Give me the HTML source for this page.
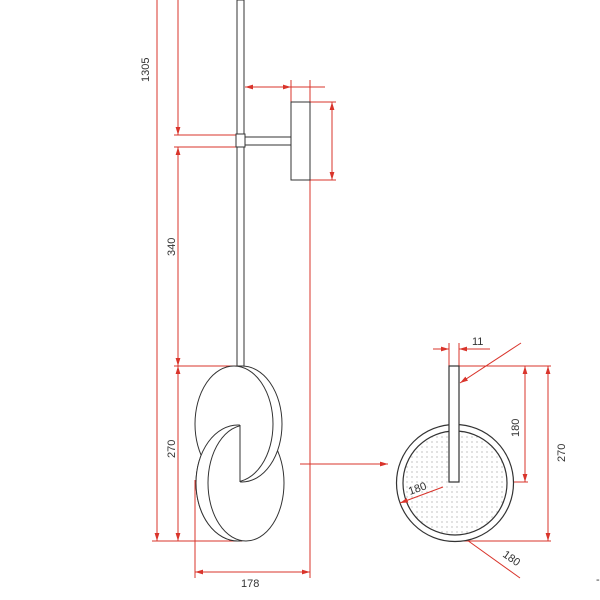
<!DOCTYPE html>
<html><head><meta charset="utf-8"><style>
html,body{margin:0;padding:0;background:#fff;width:600px;height:600px;overflow:hidden}
svg{display:block}
text{font-family:"Liberation Sans",sans-serif;font-size:11px;fill:#333}
</style></head><body>
<svg width="600" height="600" viewBox="0 0 600 600" xmlns="http://www.w3.org/2000/svg">
<defs>
<marker id="a" viewBox="0 0 10 10" refX="10" refY="5" markerWidth="8" markerHeight="8" orient="auto-start-reverse"><path d="M0,2 L10,5 L0,8 z" fill="#d9342b"/></marker>
<pattern id="dots" width="5" height="5" patternUnits="userSpaceOnUse"><circle cx="2" cy="2" r="0.6" fill="#999"/></pattern>
<clipPath id="cl"><rect x="0" y="0" width="240" height="600"/></clipPath>
</defs>
<g stroke="#d9342b" stroke-width="1" fill="none">
<line x1="157" y1="0" x2="157" y2="541" marker-end="url(#a)"/>
<line x1="178" y1="0" x2="178" y2="135" marker-end="url(#a)"/>
<line x1="178" y1="147" x2="178" y2="366" marker-start="url(#a)" marker-end="url(#a)"/>
<line x1="178" y1="366" x2="178" y2="541" marker-start="url(#a)" marker-end="url(#a)"/>
<line x1="174" y1="135" x2="237" y2="135"/>
<line x1="174" y1="147" x2="237" y2="147"/>
<line x1="174" y1="366" x2="237" y2="366"/>
<line x1="152" y1="541" x2="242" y2="541"/>
<line x1="245" y1="87" x2="291" y2="87" marker-start="url(#a)" marker-end="url(#a)"/>
<line x1="291" y1="87" x2="325" y2="87"/>
<line x1="291" y1="80" x2="291" y2="102"/>
<line x1="310" y1="80" x2="310" y2="102"/>
<line x1="310" y1="102" x2="336" y2="102"/>
<line x1="310" y1="180" x2="336" y2="180"/>
<line x1="332" y1="102" x2="332" y2="180" marker-start="url(#a)" marker-end="url(#a)"/>
<line x1="310" y1="180" x2="310" y2="578"/>
<line x1="195" y1="480" x2="195" y2="578"/>
<line x1="195" y1="572" x2="310" y2="572" marker-start="url(#a)" marker-end="url(#a)"/>
<line x1="300" y1="464" x2="388" y2="464" marker-end="url(#a)"/>
<line x1="433" y1="349" x2="449" y2="349" marker-end="url(#a)"/>
<line x1="490" y1="349" x2="459" y2="349" marker-end="url(#a)"/>
<line x1="449" y1="343" x2="449" y2="366"/>
<line x1="459" y1="343" x2="459" y2="366"/>
<line x1="521" y1="343" x2="460" y2="383" marker-end="url(#a)"/>
<line x1="459" y1="366" x2="551" y2="366"/>
<line x1="459" y1="482" x2="528" y2="482"/>
<line x1="455" y1="541" x2="551" y2="541"/>
<line x1="525" y1="366" x2="525" y2="482" marker-start="url(#a)" marker-end="url(#a)"/>
<line x1="548" y1="366" x2="548" y2="541" marker-start="url(#a)" marker-end="url(#a)"/>
<line x1="520" y1="578" x2="460" y2="535" marker-end="url(#a)"/>
</g>
<g stroke="#333" stroke-width="1" fill="#fff">
<rect x="237" y="0" width="7" height="366"/>
<rect x="245" y="137" width="46" height="8"/>
<rect x="236" y="134" width="9" height="13"/>
<rect x="291" y="102" width="19" height="78"/>
<!-- lower disc -->
<ellipse cx="238" cy="483" rx="42" ry="58"/>
<ellipse cx="246" cy="483" rx="38" ry="58"/>
<!-- upper disc -->
<ellipse cx="242" cy="424" rx="40" ry="58"/>
<ellipse cx="234" cy="424" rx="39" ry="58"/>
<g clip-path="url(#cl)">
<ellipse cx="238" cy="483" rx="42" ry="58"/>
<ellipse cx="246" cy="483" rx="38" ry="58"/>
</g>
<line x1="240" y1="425" x2="240" y2="482"/>
</g>
<g stroke="#333" stroke-width="1.2">
<circle cx="455" cy="483" r="58.5" fill="#fff"/>
<circle cx="455" cy="483" r="52" fill="url(#dots)"/>
<rect x="449" y="366" width="10" height="116" fill="#fff"/>
</g>
<g stroke="#d9342b" fill="none"><line x1="443" y1="487" x2="400" y2="503" marker-end="url(#a)"/></g>
<text transform="translate(149,82) rotate(-90)">1305</text>
<text transform="translate(175,256) rotate(-90)">340</text>
<text transform="translate(175,458) rotate(-90)">270</text>
<text x="241" y="587">178</text>
<text x="472" y="345">11</text>
<text transform="translate(519,437) rotate(-90)">180</text>
<text transform="translate(565,462) rotate(-90)">270</text>
<text transform="translate(410,495) rotate(-20)">180</text>
<text transform="translate(502,556) rotate(35)">180</text>
<text x="596" y="583">-</text>
</svg>
</body></html>
